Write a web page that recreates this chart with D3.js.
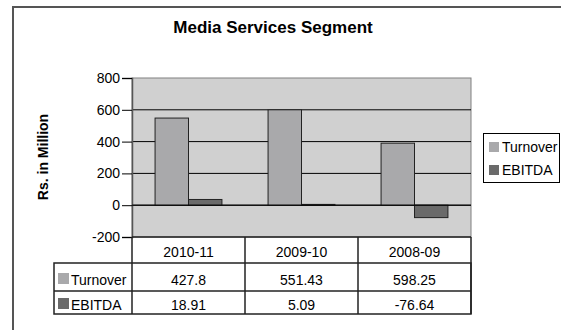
<!DOCTYPE html>
<html><head><meta charset="utf-8">
<script src="https://cdn.jsdelivr.net/npm/d3@7"></script>
<style>body{margin:0;background:#fff}svg{display:block;font-family:"Liberation Sans",Arial,sans-serif}</style>
</head><body>
<script>
const categories = ["2010-11", "2009-10", "2008-09"];
const seriesNames = ["Turnover", "EBITDA"];
const turnover = [548, 600, 390];
const ebitda = [36, 5, -78];
const turnoverLabels = ["427.8", "551.43", "598.25"];
const ebitdaLabels = ["18.91", "5.09", "-76.64"];
const yTicks = [-200, 0, 200, 400, 600, 800];
const colors = ["#a9a9ab", "#6a6a6a"];

const W = 561, H = 332;
const svg = d3.select("body").append("svg").attr("width", W).attr("height", H);

// outer frame
svg.append("path").attr("d", "M13,330V7H561").attr("fill", "none").attr("stroke", "#555").attr("stroke-width", 2);

svg.append("text").attr("x", 273).attr("y", 33).attr("text-anchor", "middle")
  .attr("font-size", 17).attr("font-weight", "bold").text("Media Services Segment");

const x = d3.scaleBand().domain(categories).range([132, 471]);
const xs = d3.scaleBand().domain(seriesNames).range([0, x.bandwidth()]).paddingOuter(0.69);
const y = d3.scaleLinear().domain([-200, 800]).range([237, 78]);

// plot bg
svg.append("rect").attr("x", 132).attr("y", y(800)).attr("width", 339).attr("height", y(-200) - y(800))
  .attr("fill", "#d0d0d0").attr("stroke", "#808080").attr("stroke-width", 1);

// grid
svg.append("g").selectAll("line").data(yTicks.filter(d => d > -200 && d < 800)).join("line")
  .attr("x1", 132).attr("x2", 471).attr("y1", d => y(d)).attr("y2", d => y(d))
  .attr("stroke", "#000").attr("stroke-width", 1);

// y axis
const ya = svg.append("g").attr("transform", "translate(132,0)")
  .call(d3.axisLeft(y).tickValues(yTicks).tickSize(10).tickPadding(2).tickFormat(d => String(d)));
ya.select(".domain").attr("stroke", "#555").attr("stroke-width", 1.5);
ya.selectAll(".tick line").attr("stroke", "#000");
ya.selectAll("text").attr("font-size", 14).attr("fill", "#000").attr("font-family", "Liberation Sans, Arial, sans-serif");

svg.append("text").attr("transform", "translate(48,157) rotate(-90)").attr("text-anchor", "middle")
  .attr("font-size", 14).attr("font-weight", "bold").text("Rs. in Million");

// bars
const series = [turnover, ebitda];
series.forEach((vals, si) => {
  svg.append("g").selectAll("rect").data(vals).join("rect")
    .attr("x", (d, i) => x(categories[i]) + xs(seriesNames[si]))
    .attr("width", xs.bandwidth())
    .attr("y", d => y(Math.max(0, d)))
    .attr("height", d => Math.abs(y(d) - y(0)))
    .attr("fill", colors[si]).attr("stroke", "#222").attr("stroke-width", 1);
});
svg.append("line").attr("x1", 132).attr("x2", 471).attr("y1", y(0)).attr("y2", y(0)).attr("stroke", "#000");

// data table
const rowY = [237, 263, 291, 314];
const tb = svg.append("g").attr("stroke", "#222").attr("stroke-width", 1.5).attr("fill", "none");
tb.append("rect").attr("x", 54).attr("y", rowY[1]).attr("width", 471 - 54).attr("height", rowY[3] - rowY[1]);
tb.append("line").attr("x1", 132).attr("x2", 132).attr("y1", rowY[0]).attr("y2", rowY[3]);
tb.append("line").attr("x1", 471).attr("x2", 471).attr("y1", rowY[0]).attr("y2", rowY[3]);
tb.append("line").attr("x1", 132).attr("x2", 471).attr("y1", rowY[0]).attr("y2", rowY[0]);
tb.append("line").attr("x1", 54).attr("x2", 471).attr("y1", rowY[2]).attr("y2", rowY[2]);
categories.slice(1).forEach(c => tb.append("line").attr("x1", x(c)).attr("x2", x(c)).attr("y1", rowY[0]).attr("y2", rowY[3]));

svg.append("g").selectAll("text").data(categories).join("text")
  .attr("x", d => x(d) + x.bandwidth() / 2).attr("y", 257).attr("text-anchor", "middle")
  .attr("font-size", 14).text(d => d);
const rows = [turnoverLabels, ebitdaLabels];
const rowBase = [285, 310];
rows.forEach((labels, ri) => {
  svg.append("g").selectAll("text").data(labels).join("text")
    .attr("x", (d, i) => x(categories[i]) + x.bandwidth() / 2).attr("y", rowBase[ri]).attr("text-anchor", "middle")
    .attr("font-size", 14).text(d => d);
  svg.append("rect").attr("x", 58).attr("y", rowBase[ri] - 12).attr("width", 11).attr("height", 11).attr("fill", colors[ri]);
  svg.append("text").attr("x", 71).attr("y", rowBase[ri]).attr("font-size", 14).text(seriesNames[ri]);
});

// legend
svg.append("rect").attr("x", 483.5).attr("y", 133.5).attr("width", 76).attr("height", 49)
  .attr("fill", "#fff").attr("stroke", "#000").attr("stroke-width", 1);
const legY = [152, 175];
seriesNames.forEach((s, i) => {
  svg.append("rect").attr("x", 489).attr("y", legY[i] - 10).attr("width", 10).attr("height", 10).attr("fill", colors[i]);
  svg.append("text").attr("x", 502).attr("y", legY[i]).attr("font-size", 14).text(s);
});
</script>
</body></html>
